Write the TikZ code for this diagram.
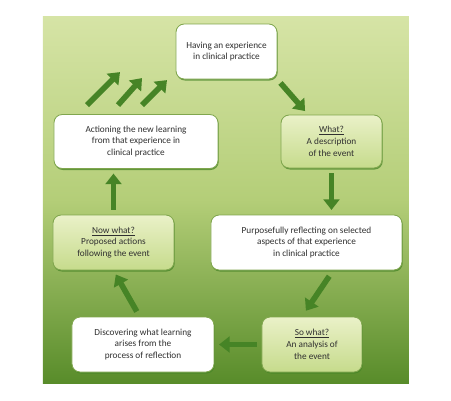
\documentclass[tikz,border=0pt]{standalone}
\usepackage{fontspec}
\setmainfont{Carlito}
\usetikzlibrary{arrows.meta,shadows}
\definecolor{bgtop}{RGB}{214,228,166}
\definecolor{bgmid}{RGB}{180,206,120}
\definecolor{bgbot}{RGB}{88,140,42}
\definecolor{arrgreen}{RGB}{70,132,38}
\definecolor{boxedge}{RGB}{128,166,78}
\definecolor{gtop}{RGB}{234,241,200}
\definecolor{gbot}{RGB}{198,219,140}
\definecolor{txt}{RGB}{48,48,48}

\begin{document}
\begin{tikzpicture}[
		box/.style={rounded corners=7pt, draw=boxedge, line width=0.7pt, align=center, text=txt,
			font=\fontsize{7.9}{10}\selectfont, inner sep=2pt,
			drop shadow={shadow xshift=0.6pt, shadow yshift=-1.3pt, fill=arrgreen, opacity=0.75}},
		plainbox/.style={box, fill=white},
		greenbox/.style={box, top color=gtop, bottom color=gbot},
		flow/.style={draw=arrgreen, line width=4.8pt, -{Triangle[width=13.5pt,length=9pt]},
			shorten <=4pt, shorten >=4pt}
	]
		\useasboundingbox (-6.795,1.545) rectangle (6.735,-10.455);
		\shade[top color=bgtop, bottom color=bgbot, middle color=bgmid] (-5.505,1.065) rectangle (5.475,-9.945);
		
		\node[plainbox, minimum width=3.03cm, minimum height=1.65cm](EXP){Having an experience\\in clinical practice};
		\node[greenbox, below of=EXP, node distance=2.7cm, xshift=3.15cm, minimum width=3.03cm, minimum height=1.59cm](WHAT){\underline{What?}\\A description\\of the event};
		\node[plainbox, left of=WHAT, node distance=5.865cm, minimum width=4.92cm, minimum height=1.62cm](ACT){Actioning the new learning\\from that experience in\\clinical practice};
		\node[plainbox, below of=WHAT, node distance=3.03cm, xshift=-0.75cm, minimum width=5.73cm, minimum height=1.65cm](REFL){Purposefully reflecting on selected\\aspects of that experience\\in clinical practice};
		\node[greenbox, left of=REFL, node distance=5.79cm, minimum width=3.63cm, minimum height=1.65cm](NOW){\underline{Now what?}\\Proposed actions\\following the event};
		\node[greenbox, below of=REFL, node distance=3.06cm, xshift=0.165cm, minimum width=3.0cm, minimum height=1.65cm](SOW){\underline{So what?}\\An analysis of\\the event};
		\node[plainbox, left of=SOW, node distance=5.07cm, minimum width=4.26cm, minimum height=1.65cm](DISC){Discovering what learning\\arises from the\\process of reflection};
		
		\draw[flow] (EXP.south east) -- ([xshift=-0.7cm]WHAT.north);
		\draw[flow] (WHAT.south) -- (WHAT.south |- REFL.north);
		\draw[flow, shorten <=6pt, shorten >=6pt] ([xshift=0.8cm]REFL.south) -- ([xshift=-0.3cm]SOW.north);
		\draw[flow] (SOW.west) -- (DISC.east);
		\draw[flow, shorten <=5pt] ([xshift=-0.1cm]DISC.north) -- (NOW.south);
		\draw[flow] (NOW.north) -- (NOW.north |- ACT.south);
		
		\foreach \i/\sx/\ex/\ey in {1/-1.47/-0.48/1.26, 2/-0.54/0.18/1.08, 3/0.18/0.93/1.02}{
			\coordinate (UP\i) at ([xshift=\sx cm, yshift=0.27cm]ACT.north);
			\coordinate (TIP\i) at ([xshift=\ex cm, yshift=\ey cm]ACT.north);
			\draw[flow, shorten <=0pt, shorten >=0pt] (UP\i) -- (TIP\i);
		}
\end{tikzpicture}
\end{document}
